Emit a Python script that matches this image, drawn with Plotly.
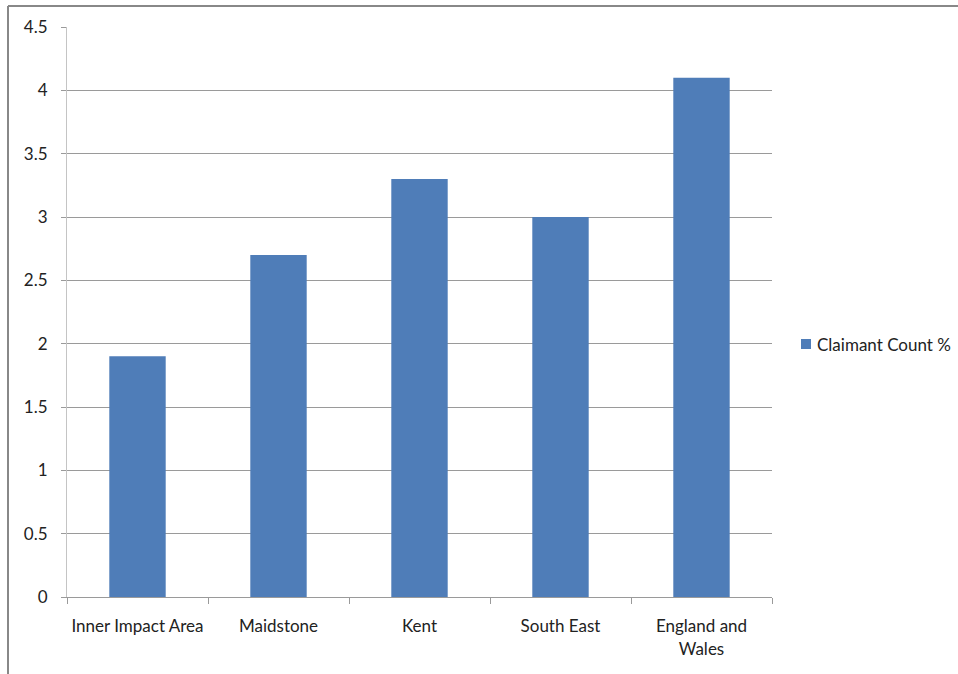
import plotly.graph_objects as go

categories = ["Inner Impact Area", "Maidstone", "Kent", "South East", "England and<br>Wales"]
values = [1.9, 2.7, 3.3, 3.0, 4.1]
series_name = "Claimant Count %"
y_ticks = [0, 0.5, 1, 1.5, 2, 2.5, 3, 3.5, 4, 4.5]
y_labels = ["0", "0.5", "1", "1.5", "2", "2.5", "3", "3.5", "4", "4.5"]

FONT = "Lato, Carlito, Calibri, sans-serif"
BAR_COLOR = "#4F7DB8"

# plot area in pixels: x 67..772, y 27..597
PW, PH = 705.0, 570.0
def px_x(p):
    return (p - 67) / PW
def px_y(p):
    return (597 - p) / PH

fig = go.Figure(go.Bar(
    x=categories, y=values, name=series_name,
    marker=dict(color=BAR_COLOR, line=dict(width=0)),
    showlegend=False,
))

fig.update_layout(
    width=958, height=674,
    margin=dict(l=67, r=186, t=27, b=77, autoexpand=False),
    paper_bgcolor="white", plot_bgcolor="white",
    bargap=0.6,
    font=dict(family=FONT, size=17, color="#222222"),
    xaxis=dict(
        type="category", tickson="boundaries", ticks="outside", ticklen=6,
        tickcolor="#9a9a9a", showline=True, linecolor="#9a9a9a", linewidth=1,
        showgrid=False, tickfont=dict(size=17, color="#222222"),
        tickangle=0, ticklabelstandoff=14,
    ),
    yaxis=dict(
        range=[0, 4.5], tickvals=y_ticks, ticktext=y_labels,
        ticks="outside", ticklen=5, tickcolor="#9a9a9a",
        showline=True, linecolor="#c4c4c4", linewidth=1,
        showgrid=True, gridcolor="#9a9a9a", gridwidth=1,
        zeroline=False, tickfont=dict(size=17, color="#222222"),
        ticklabelstandoff=10,
    ),
    shapes=[
        dict(type="line", xref="paper", yref="paper",
             x0=px_x(8), x1=px_x(8), y0=px_y(6), y1=px_y(700),
             line=dict(color="#888888", width=2)),
        dict(type="line", xref="paper", yref="paper",
             x0=px_x(8), x1=px_x(1000), y0=px_y(6), y1=px_y(6),
             line=dict(color="#888888", width=2)),
        # legend swatch
        dict(type="rect", xref="paper", yref="paper",
             x0=px_x(801), x1=px_x(811), y0=px_y(349), y1=px_y(339),
             fillcolor=BAR_COLOR, line=dict(width=0)),
    ],
    annotations=[
        dict(text=series_name, xref="paper", yref="paper",
             x=px_x(815), y=px_y(344), xanchor="left", yanchor="middle",
             showarrow=False, font=dict(size=17, color="#222222")),
    ],
)

fig.write_html("out.html")
